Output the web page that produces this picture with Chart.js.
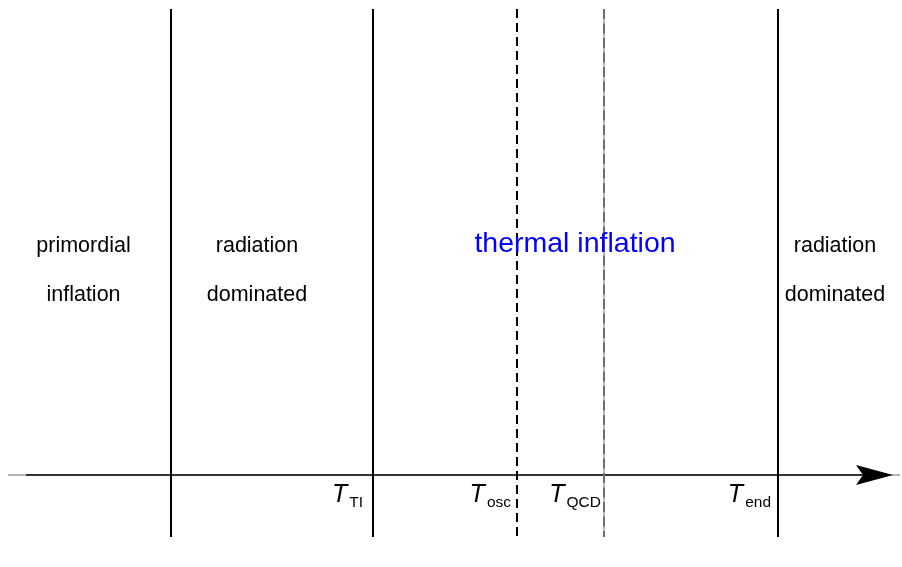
<!DOCTYPE html>
<html>
<head>
<meta charset="utf-8">
<script src="https://cdn.jsdelivr.net/npm/chart.js@4/dist/chart.umd.min.js"></script>
<style>
  html, body { margin: 0; padding: 0; background: #fff; }
  #wrap { width: 902px; height: 567px; }
</style>
</head>
<body>
<div id="wrap"><canvas id="c" width="902" height="567"></canvas></div>
<script>
// ---- data (schematic time axis, arbitrary units across the panel) ----
const solidBoundaries = [171, 373, 778];      // phase boundaries (solid lines)
const oscBoundary = [517];                    // T_osc (black dashed)
const qcdBoundary = [604];                    // T_QCD (gray dashed)
const lineSpan = [9, 537];                    // vertical extent of boundary lines
const axisLevel = 475;                        // time-axis level
const axisStart = [8, 26];                    // faint start, dark start
const axisEnd = [900, 893];                   // faint end, arrow tip

const regionLines = [
  ['primordial', 'inflation'],
  ['radiation', 'dominated'],
  ['thermal inflation'],
  ['radiation', 'dominated']
];
const regionCenters = [83.5, 257, 575, 835];
const regionColors = ['#000000', '#000000', '#0000ff', '#000000'];

const tempMain = ['T', 'T', 'T', 'T'];
const tempSub = ['TI', 'osc', 'QCD', 'end'];
const tempRightEdge = [363, 511, 601, 771];

// ---- datasets built from the arrays ----
function vline(x) { return [{x: x, y: lineSpan[0]}, {x: x, y: lineSpan[1]}]; }

const datasets = [];
// faint full-width axis underlay (drawn first = highest order)
datasets.push({ data: [{x: axisStart[0], y: axisLevel}, {x: axisEnd[0], y: axisLevel}],
  borderColor: '#b4b4b4', borderWidth: 2, order: 10 });
// dark axis
datasets.push({ data: [{x: axisStart[1], y: axisLevel}, {x: axisEnd[1] - 25, y: axisLevel}],
  borderColor: '#333333', borderWidth: 2, order: 9 });
solidBoundaries.forEach(b => datasets.push({ data: vline(b), borderColor: '#000000', borderWidth: 2, order: 5 }));
oscBoundary.forEach(b => datasets.push({ data: vline(b), borderColor: '#000000', borderWidth: 2, borderDash: [9, 5], order: 5 }));
qcdBoundary.forEach(b => {
  datasets.push({ data: vline(b), borderColor: '#b0b0b0', borderWidth: 1, order: 4 });
  datasets.push({ data: vline(b), borderColor: '#6e6e6e', borderWidth: 2, borderDash: [10, 4.5], order: 3 });
});
datasets.forEach(d => { d.showLine = true; d.pointRadius = 0; d.fill = false; });

const overlay = {
  id: 'overlay',
  afterDatasetsDraw(chart) {
    const ctx = chart.ctx, xs = chart.scales.x, ys = chart.scales.y;
    ctx.save();
    // arrow head
    const tip = xs.getPixelForValue(axisEnd[1]);
    const yA = ys.getPixelForValue(axisLevel);
    ctx.fillStyle = '#000';
    ctx.beginPath();
    ctx.moveTo(tip, yA);
    ctx.lineTo(tip - 37, yA - 10);
    ctx.lineTo(tip - 30, yA);
    ctx.lineTo(tip - 37, yA + 10);
    ctx.closePath();
    ctx.fill();

    // region labels
    ctx.textAlign = 'center';
    ctx.textBaseline = 'alphabetic';
    regionLines.forEach((lines, i) => {
      const cx = xs.getPixelForValue(regionCenters[i]);
      ctx.fillStyle = regionColors[i];
      if (lines.length === 1) {
        ctx.font = '28.5px "Liberation Sans", Arial, sans-serif';
        ctx.fillText(lines[0], cx, ys.getPixelForValue(252));
      } else {
        ctx.font = '21.5px "Liberation Sans", Arial, sans-serif';
        ctx.fillText(lines[0], cx, ys.getPixelForValue(252));
        ctx.fillText(lines[1], cx, ys.getPixelForValue(301));
      }
    });

    // temperature labels
    ctx.fillStyle = '#000';
    tempMain.forEach((m, i) => {
      const right = xs.getPixelForValue(tempRightEdge[i]);
      ctx.font = '15.5px "Liberation Sans", Arial, sans-serif';
      const sw = ctx.measureText(tempSub[i]).width;
      ctx.textAlign = 'left';
      ctx.fillText(tempSub[i], right - sw, ys.getPixelForValue(507));
      ctx.font = 'italic 25px "Liberation Sans", Arial, sans-serif';
      const mw = ctx.measureText(m).width;
      ctx.fillText(m, right - sw - mw - 2, ys.getPixelForValue(502));
    });
    ctx.restore();
  }
};

new Chart(document.getElementById('c'), {
  type: 'scatter',
  data: { datasets },
  options: {
    responsive: false,
    animation: false,
    layout: { padding: 0 },
    plugins: { legend: { display: false }, tooltip: { enabled: false } },
    scales: {
      x: { type: 'linear', min: 0, max: 902, display: false },
      y: { type: 'linear', min: 0, max: 567, reverse: true, display: false }
    },
    elements: { line: { borderCapStyle: 'butt' } }
  },
  plugins: [overlay]
});
</script>
</body>
</html>
